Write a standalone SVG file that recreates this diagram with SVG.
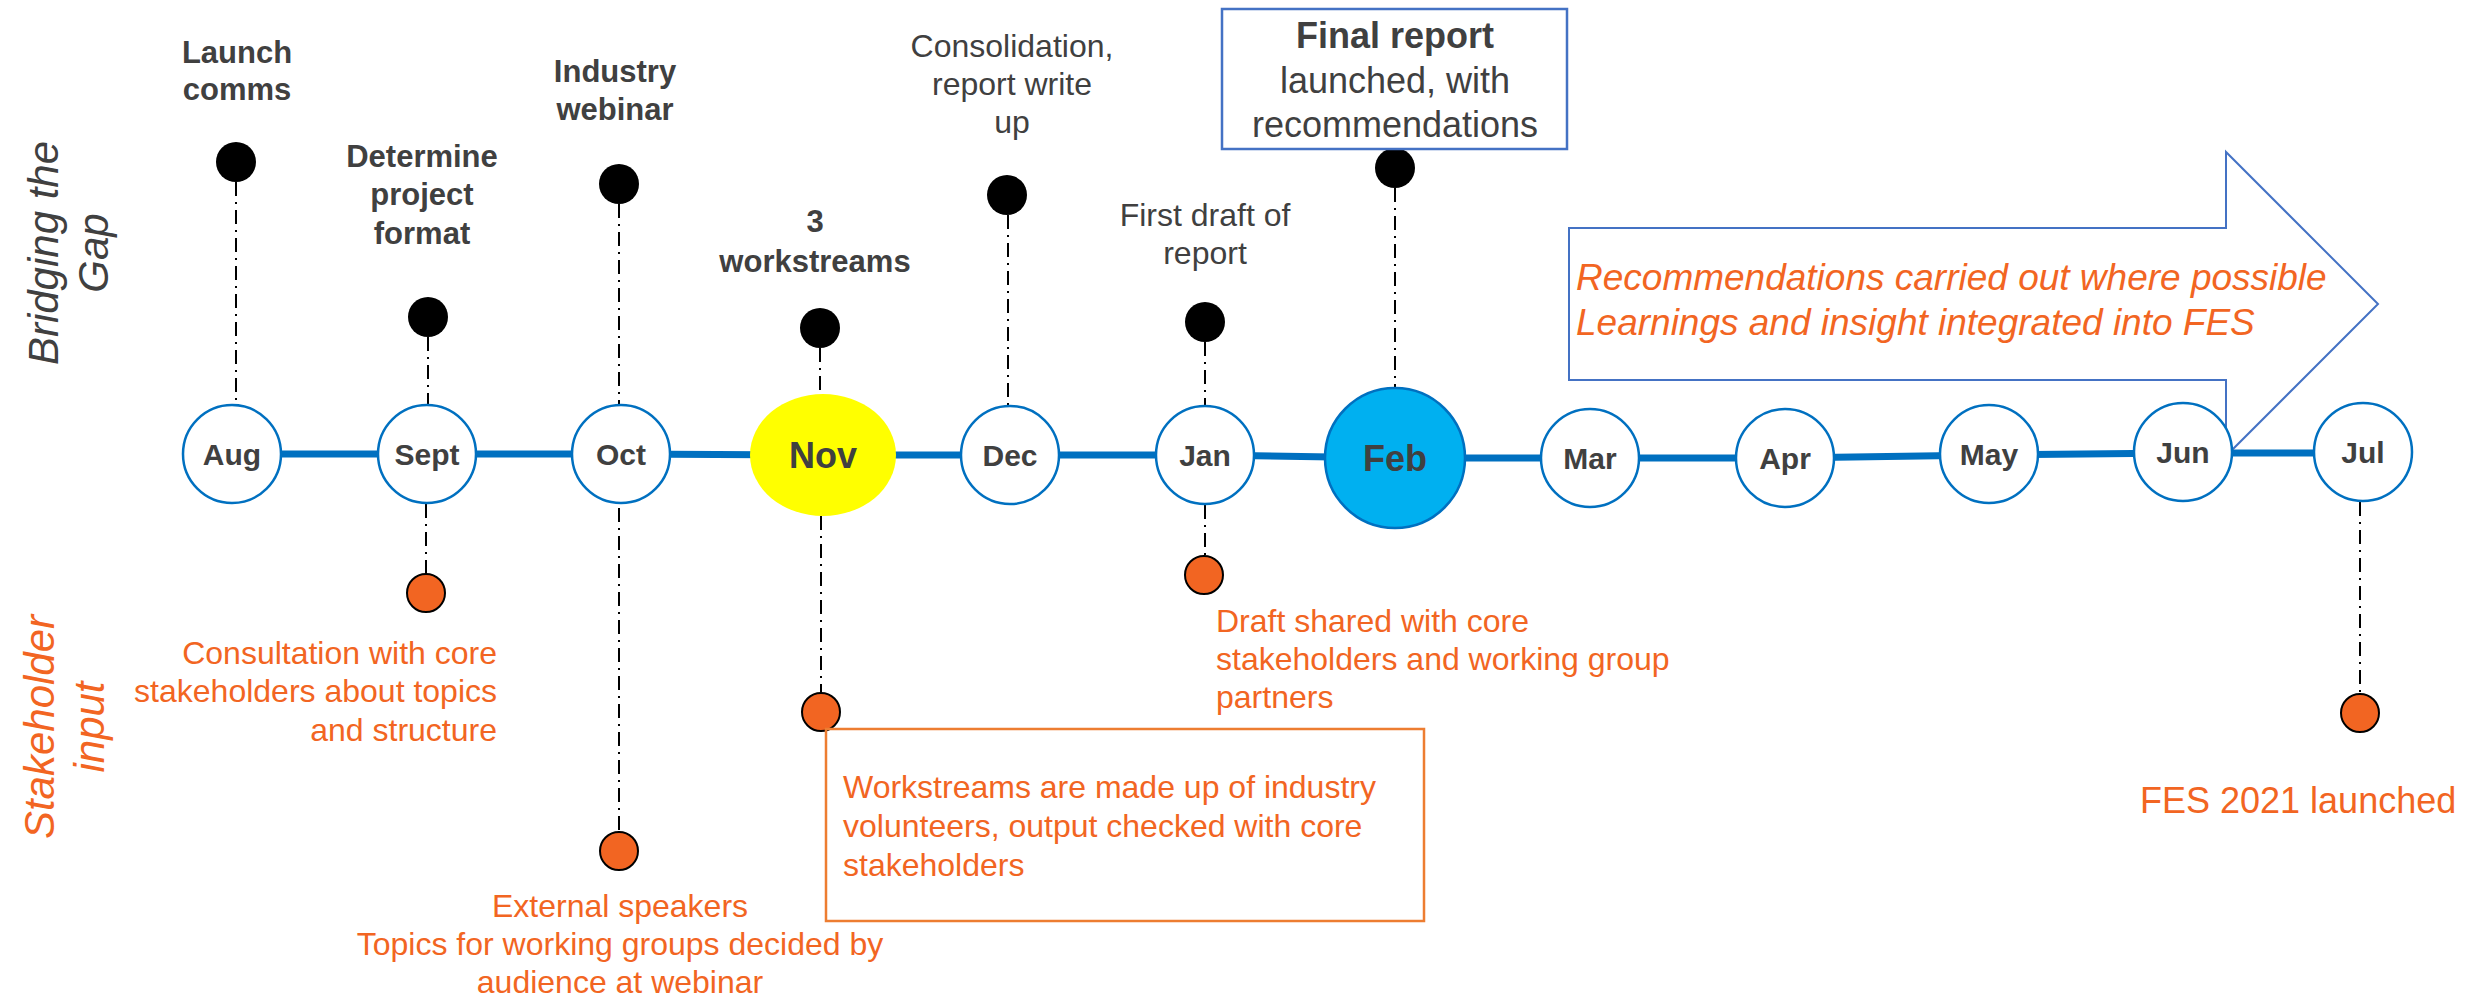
<svg xmlns="http://www.w3.org/2000/svg" width="2474" height="997" viewBox="0 0 2474 997">
<style>
.month{fill:#fff;stroke:#0070C0;stroke-width:2.5}
.mlabel{font-family:"Liberation Sans",Arial,sans-serif;font-weight:bold;font-size:30px;fill:#404040;text-anchor:middle}
.big{font-size:36px}
.top{font-family:"Liberation Sans",Arial,sans-serif;font-weight:bold;font-size:31px;fill:#404040;text-anchor:middle}
.topr{font-family:"Liberation Sans",Arial,sans-serif;font-size:32px;fill:#404040;text-anchor:middle}
.or{font-family:"Liberation Sans",Arial,sans-serif;font-size:32px;fill:#F26522}
.or36{font-size:36px}
.or37{font-size:37px}
.fr{font-size:36px}
.ital{font-style:italic}
.side{font-family:"Liberation Sans",Arial,sans-serif;font-style:italic;font-size:42px;text-anchor:middle}
.bdot{fill:#000}
.odot{fill:#F26522;stroke:#000;stroke-width:2}
.conn{stroke:#000;stroke-width:2;stroke-dasharray:14 6 2 6;fill:none}
</style>

<g id="side-labels">
  <text class="side" fill="#404040" transform="translate(58,253) rotate(-90)"><tspan x="0" y="0">Bridging  the</tspan><tspan x="0" y="50">Gap</tspan></text>
  <text class="side" fill="#F26522" transform="translate(54,727) rotate(-90)"><tspan x="0" y="0">Stakeholder</tspan><tspan x="0" y="50">input</tspan></text>
</g>

<g id="arrow-recommendations">
  <polygon points="1569,228 2226,228 2226,152 2378,304 2226,456 2226,380 1569,380" fill="#fff" stroke="#4472C4" stroke-width="2"/>
  <text class="or or37 ital" x="1576" y="290">Recommendations carried out where possible</text>
  <text class="or or37 ital" x="1576" y="335">Learnings and insight integrated into FES</text>
</g>

<g id="connectors">
  <polyline points="232,454 427,454 621,454 823,455 1010,455 1205,455 1395,458 1590,458 1785,458 1989,455 2183,453 2363,453" fill="none" stroke="#0070C0" stroke-width="7"/>
  <line class="conn" x1="236" y1="182" x2="236" y2="404"/>
  <line class="conn" x1="428" y1="337" x2="428" y2="404"/>
  <line class="conn" x1="619" y1="204" x2="619" y2="404"/>
  <line class="conn" x1="820" y1="348" x2="820" y2="394"/>
  <line class="conn" x1="1008" y1="215" x2="1008" y2="405"/>
  <line class="conn" x1="1205" y1="342" x2="1205" y2="415"/>
  <line class="conn" x1="1395" y1="188" x2="1395" y2="388"/>
  <line class="conn" x1="426" y1="504" x2="426" y2="573"/>
  <line class="conn" x1="619" y1="508" x2="619" y2="831"/>
  <line class="conn" x1="821" y1="516" x2="821" y2="692"/>
  <line class="conn" x1="1205" y1="505" x2="1205" y2="555"/>
  <line class="conn" x1="2360" y1="502" x2="2360" y2="700"/>
</g>

<g id="aug"><circle class="month" cx="232" cy="454" r="49"/><text class="mlabel" x="232" y="465">Aug</text></g>
<g id="sept"><circle class="month" cx="427" cy="454" r="49"/><text class="mlabel" x="427" y="465">Sept</text></g>
<g id="oct"><circle class="month" cx="621" cy="454" r="49"/><text class="mlabel" x="621" y="465">Oct</text></g>
<g id="nov"><ellipse cx="823" cy="455" rx="73" ry="61" fill="#FFFF00"/><text class="mlabel big" x="823" y="468">Nov</text></g>
<g id="dec"><circle class="month" cx="1010" cy="455" r="49"/><text class="mlabel" x="1010" y="466">Dec</text></g>
<g id="jan"><circle class="month" cx="1205" cy="455" r="49"/><text class="mlabel" x="1205" y="466">Jan</text></g>
<g id="feb"><circle cx="1395" cy="458" r="70" fill="#00B0F0" stroke="#0070C0" stroke-width="2.5"/><text class="mlabel big" x="1395" y="471">Feb</text></g>
<g id="mar"><circle class="month" cx="1590" cy="458" r="49"/><text class="mlabel" x="1590" y="469">Mar</text></g>
<g id="apr"><circle class="month" cx="1785" cy="458" r="49"/><text class="mlabel" x="1785" y="469">Apr</text></g>
<g id="may"><circle class="month" cx="1989" cy="454" r="49"/><text class="mlabel" x="1989" y="465">May</text></g>
<g id="jun"><circle class="month" cx="2183" cy="452" r="49"/><text class="mlabel" x="2183" y="463">Jun</text></g>
<g id="jul"><circle class="month" cx="2363" cy="452" r="49"/><text class="mlabel" x="2363" y="463">Jul</text></g>

<g id="ev-launch-comms"><circle class="bdot" cx="236" cy="162" r="20"/><text class="top" x="237" y="63">Launch</text><text class="top" x="237" y="100">comms</text></g>
<g id="ev-project-format"><circle class="bdot" cx="428" cy="317" r="20"/><text class="top" x="422" y="167">Determine</text><text class="top" x="422" y="205">project</text><text class="top" x="422" y="244">format</text></g>
<g id="ev-industry-webinar"><circle class="bdot" cx="619" cy="184" r="20"/><text class="top" x="615" y="82">Industry</text><text class="top" x="615" y="120">webinar</text></g>
<g id="ev-workstreams"><circle class="bdot" cx="820" cy="328" r="20"/><text class="top" x="815" y="232">3</text><text class="top" x="815" y="272">workstreams</text></g>
<g id="ev-consolidation"><circle class="bdot" cx="1007" cy="195" r="20"/><text class="topr" x="1012" y="57">Consolidation,</text><text class="topr" x="1012" y="95">report write</text><text class="topr" x="1012" y="133">up</text></g>
<g id="ev-first-draft"><circle class="bdot" cx="1205" cy="322" r="20"/><text class="topr" x="1205" y="226">First draft of</text><text class="topr" x="1205" y="264">report</text></g>
<g id="ev-final-report"><circle class="bdot" cx="1395" cy="168" r="20"/>
  <rect x="1222" y="9" width="345" height="140" fill="#fff" stroke="#4472C4" stroke-width="2.5"/>
  <text class="top fr" x="1395" y="48">Final report</text>
  <text class="topr fr" x="1395" y="93">launched, with</text>
  <text class="topr fr" x="1395" y="137">recommendations</text>
</g>

<g id="si-consultation"><circle class="odot" cx="426" cy="593" r="19"/>
  <text class="or" text-anchor="end" x="497" y="664">Consultation with core</text>
  <text class="or" text-anchor="end" x="497" y="702">stakeholders about topics</text>
  <text class="or" text-anchor="end" x="497" y="741">and structure</text>
</g>
<g id="si-external-speakers"><circle class="odot" cx="619" cy="851" r="19"/>
  <text class="or" text-anchor="middle" x="620" y="917">External speakers</text>
  <text class="or" text-anchor="middle" x="620" y="955">Topics for working groups decided by</text>
  <text class="or" text-anchor="middle" x="620" y="993">audience at webinar</text>
</g>
<g id="si-workstreams"><circle class="odot" cx="821" cy="712" r="19"/>
  <rect x="826" y="729" width="598" height="192" fill="none" stroke="#ED7D31" stroke-width="2.5"/>
  <text class="or" x="843" y="798">Workstreams are made up of industry</text>
  <text class="or" x="843" y="837">volunteers, output checked with core</text>
  <text class="or" x="843" y="876">stakeholders</text>
</g>
<g id="si-draft-shared"><circle class="odot" cx="1204" cy="575" r="19"/>
  <text class="or" x="1216" y="632">Draft shared with core</text>
  <text class="or" x="1216" y="670">stakeholders and working group</text>
  <text class="or" x="1216" y="708">partners</text>
</g>
<g id="si-fes-launch"><circle class="odot" cx="2360" cy="713" r="19"/>
  <text class="or or36" x="2140" y="813">FES 2021 launched</text>
</g>
</svg>
